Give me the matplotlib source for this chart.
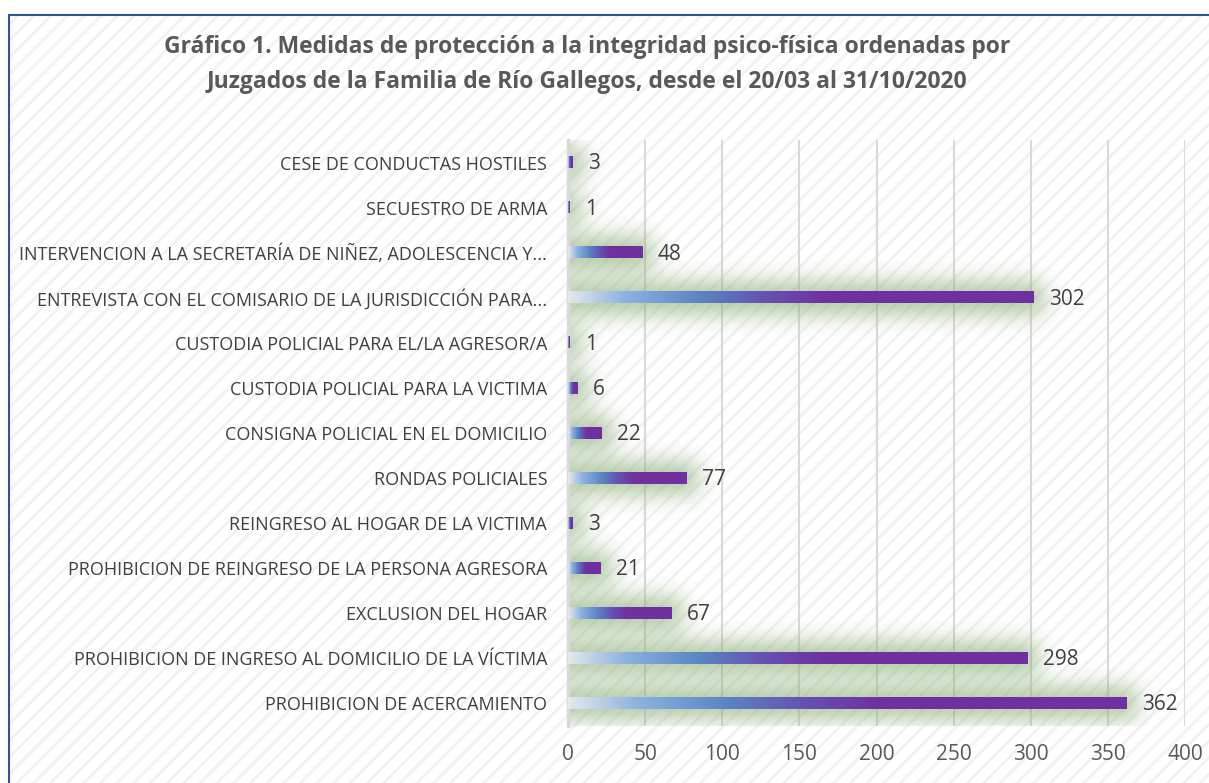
import numpy as np
import matplotlib
matplotlib.use("Agg")
import matplotlib.pyplot as plt
from matplotlib.colors import LinearSegmentedColormap, to_rgb
from matplotlib.patches import Rectangle

# data (bottom to top as drawn)
medidas = [
    "PROHIBICION DE ACERCAMIENTO",
    "PROHIBICION DE INGRESO AL DOMICILIO DE LA VÍCTIMA",
    "EXCLUSION DEL HOGAR",
    "PROHIBICION DE REINGRESO DE LA PERSONA AGRESORA",
    "REINGRESO AL HOGAR DE LA VICTIMA",
    "RONDAS POLICIALES",
    "CONSIGNA POLICIAL EN EL DOMICILIO",
    "CUSTODIA POLICIAL PARA LA VICTIMA",
    "CUSTODIA POLICIAL PARA EL/LA AGRESOR/A",
    "ENTREVISTA CON EL COMISARIO DE LA JURISDICCIÓN PARA...",
    "INTERVENCION A LA SECRETARÍA DE NIÑEZ, ADOLESCENCIA Y...",
    "SECUESTRO DE ARMA",
    "CESE DE CONDUCTAS HOSTILES",
]
cantidad = [362, 298, 67, 21, 3, 77, 22, 6, 1, 302, 48, 1, 3]
x_ticks = [0, 50, 100, 150, 200, 250, 300, 350, 400]

title1 = "Gráfico 1. Medidas de protección a la integridad psico-física ordenadas por"
title2 = "Juzgados de la Familia de Río Gallegos, desde el 20/03 al 31/10/2020"

plt.rcParams['font.family'] = ['Open Sans', 'DejaVu Sans']
plt.rcParams['hatch.linewidth'] = 2.0

W, H = 1209, 783
fig = plt.figure(figsize=(W / 100, H / 100), dpi=100)
fig.patch.set_facecolor('white')

# hatched background + blue frame
bg = Rectangle((9 / W, -0.1), 1.2, 1 - 15 / H + 0.1, transform=fig.transFigure,
               facecolor='white', edgecolor='#f2f2f2', hatch='//', linewidth=0, zorder=0)
fig.patches.append(bg)
frame = Rectangle((9 / W, -0.1), 1.2, 1 - 15 / H + 0.1, transform=fig.transFigure,
                  fill=False, edgecolor='#2f5597', linewidth=1.5, zorder=1)
fig.patches.append(frame)

ax = fig.add_axes([568 / W, 1 - 726 / H, (1185 - 568) / W, (726 - 140) / H])
ax.set_facecolor('none')
ax.set_zorder(2)

n = len(cantidad)
xmax = 400
ymin, ymax = -0.5, n - 0.5
bar_h = 0.25

# green glow under the bars, blurred from the bar shapes
nx, ny = 617, 586
xs = np.linspace(0, xmax, nx)
ys = np.linspace(ymin, ymax, ny)
XX, YY = np.meshgrid(xs, ys)
mask = np.zeros((ny, nx))
for i, v in enumerate(cantidad):
    mask[(XX <= v + 7) & (np.abs(YY - i) <= 0.36)] = 1.0

def blur(img, sigma):
    r = int(3 * sigma)
    k = np.exp(-0.5 * (np.arange(-r, r + 1) / sigma) ** 2)
    k /= k.sum()
    pad = np.pad(img, r, mode='edge')
    tmp = np.apply_along_axis(lambda m: np.convolve(m, k, mode='valid'), 1, pad)
    return np.apply_along_axis(lambda m: np.convolve(m, k, mode='valid'), 0, tmp)

glow = np.clip(blur(mask, 11) * 1.15, 0, 1)
g = np.zeros((ny, nx, 4))
g[..., :3] = to_rgb('#8aad75')
g[..., 3] = glow * 0.58
ax.imshow(g, extent=(0, xmax, ymin, ymax), origin='lower', aspect='auto',
          interpolation='bilinear', zorder=1)

# gradient bars
cmap = LinearSegmentedColormap.from_list('barra', [
    (0.0, '#e4e9ea'), (0.12, '#8db3e2'), (0.28, '#5a86c4'),
    (0.42, '#6652b2'), (0.56, '#7030a0'), (1.0, '#7030a0')])
grad = np.linspace(0, 1, 256).reshape(1, -1)
for i, v in enumerate(cantidad):
    ax.imshow(grad, cmap=cmap, extent=(0, v, i - bar_h / 2, i + bar_h / 2),
              origin='lower', aspect='auto', interpolation='bilinear', zorder=3)
    ax.annotate(str(v), (v, i), xytext=(11, -1), textcoords='offset points',
                va='center', ha='left', fontsize=15, color='#404040', zorder=4)

ax.set_xlim(0, xmax)
ax.set_ylim(ymin, ymax)
ax.set_xticks(x_ticks)
ax.set_yticks(range(n))
ax.set_yticklabels(medidas)
ax.tick_params(axis='x', length=0, pad=13, labelsize=15, labelcolor='#595959')
ax.tick_params(axis='y', length=0, pad=15, labelsize=13, labelcolor='#404040')
ax.grid(axis='x', color='#d9d9d9', linewidth=1.5, zorder=0)
ax.set_axisbelow(True)
for s in ['top', 'right', 'bottom']:
    ax.spines[s].set_visible(False)
ax.spines['left'].set_color('#d9d9d9')
ax.spines['left'].set_linewidth(2.5)

fig.text(587 / W, 1 - 47 / H, title1, ha='center', va='center', fontsize=16.5,
         fontweight='bold', color='#595959')
fig.text(587 / W, 1 - 82 / H, title2, ha='center', va='center', fontsize=16.5,
         fontweight='bold', color='#595959')

fig.savefig('out.png', dpi=100)
